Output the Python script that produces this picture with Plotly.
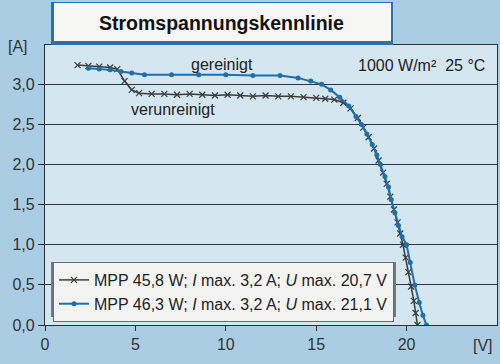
import plotly.graph_objects as go

# verunreinigt (black, x markers)
v_dirty = [1.8, 2.4, 3.0, 3.6, 4.0, 4.4, 4.8, 5.2, 5.9, 6.6, 7.3, 8.0, 8.7, 9.4, 10.1, 10.8,
           11.5, 12.2, 12.9, 13.6, 14.3, 15.0, 15.5, 16.0, 16.5, 16.9, 17.3, 17.6, 17.9, 18.2,
           18.45, 18.7, 18.9, 19.1, 19.3, 19.5, 19.65, 19.8, 19.95, 20.1, 20.25, 20.4, 20.5, 20.6]
i_dirty = [3.24, 3.23, 3.22, 3.21, 3.19, 3.04, 2.93, 2.89, 2.88, 2.88, 2.87, 2.88, 2.87, 2.86,
           2.87, 2.86, 2.85, 2.86, 2.85, 2.85, 2.84, 2.83, 2.82, 2.81, 2.77, 2.70, 2.58, 2.46,
           2.34, 2.20, 2.05, 1.90, 1.76, 1.60, 1.44, 1.28, 1.14, 1.00, 0.84, 0.66, 0.48, 0.30,
           0.15, 0.0]

# gereinigt (blue, dot markers)
v_clean = [2.4, 3.0, 3.6, 4.2, 4.8, 5.5, 7.0, 8.5, 10.0, 11.5, 13.0, 14.0, 14.7, 15.3, 15.8,
           16.3, 16.8, 17.2, 17.5, 17.8, 18.1, 18.35, 18.55, 18.8, 19.0, 19.15, 19.35, 19.55,
           19.75, 20.0, 20.2, 20.45, 20.7, 20.9, 21.1]
i_clean = [3.20, 3.19, 3.18, 3.16, 3.14, 3.12, 3.12, 3.12, 3.12, 3.11, 3.11, 3.08, 3.04, 3.00,
           2.93, 2.84, 2.73, 2.60, 2.50, 2.38, 2.25, 2.12, 2.00, 1.85, 1.72, 1.56, 1.40, 1.24,
           1.10, 1.00, 0.78, 0.50, 0.28, 0.12, 0.0]

name_dirty = "MPP 45,8 W; <i>I</i> max. 3,2 A; <i>U</i> max. 20,7 V"
name_clean = "MPP 46,3 W; <i>I</i> max. 3,2 A; <i>U</i> max. 21,1 V"

x_ticks = [0, 5, 10, 15, 20]
y_ticks = [0.0, 0.5, 1.0, 1.5, 2.0, 2.5, 3.0]

FONT = "Liberation Sans, Arial, sans-serif"

fig = go.Figure()
fig.add_trace(go.Scatter(x=v_dirty, y=i_dirty, mode="lines+markers", name=name_dirty,
                         line=dict(color="#3c3c3c", width=1.5),
                         marker=dict(symbol="x-thin", size=6, line=dict(color="#3c3c3c", width=1.2))))
fig.add_trace(go.Scatter(x=v_clean, y=i_clean, mode="lines+markers", name=name_clean,
                         line=dict(color="#1f6fad", width=2),
                         marker=dict(symbol="circle", size=5, color="#1f6fad")))

# geometry helpers (plot area: x 45..497, y 45..325 px)
L, R, T, B = 45, 497, 45, 325
def px(x):
    return (x - L) / (R - L)
def py(y):
    return (B - y) / (B - T)

shapes = [
    # legend shadow
    dict(type="rect", xref="paper", yref="paper", x0=px(51), x1=px(396), y0=py(317), y1=py(262),
         fillcolor="#6f7a80", line=dict(width=0), layer="above"),
    # title box: blue frame + white
    dict(type="rect", xref="paper", yref="paper", x0=px(51), x1=px(393), y0=py(45), y1=py(2),
         fillcolor="#2f6fb0", line=dict(width=0), layer="above"),
    dict(type="rect", xref="paper", yref="paper", x0=px(54), x1=px(391), y0=py(41), y1=py(3),
         fillcolor="#f6f7f5", line=dict(width=0), layer="above"),
]

annotations = [
    dict(text="<b>Stromspannungskennlinie</b>", xref="paper", yref="paper", x=px(221), y=py(23),
         showarrow=False, font=dict(size=19.5, color="#111", family=FONT), xanchor="center", yanchor="middle"),
    dict(text="gereinigt", x=9.8, y=3.25, showarrow=False,
         font=dict(size=16, color="#222", family=FONT), xanchor="center", yanchor="middle"),
    dict(text="verunreinigt", x=7.1, y=2.68, showarrow=False,
         font=dict(size=16, color="#222", family=FONT), xanchor="center", yanchor="middle"),
    dict(text="1000 W/m²&nbsp;&nbsp;25 °C", xref="paper", yref="paper", x=px(487), y=py(66), showarrow=False,
         font=dict(size=16, color="#222", family=FONT), xanchor="right", yanchor="middle"),
    dict(text="[A]", xref="paper", yref="paper", x=px(18), y=py(46), showarrow=False,
         font=dict(size=16, color="#333", family=FONT), xanchor="center", yanchor="middle"),
    dict(text="[V]", xref="paper", yref="paper", x=px(483), y=py(345), showarrow=False,
         font=dict(size=16, color="#333", family=FONT), xanchor="center", yanchor="middle"),
]

fig.update_layout(
    width=500, height=364,
    margin=dict(l=L, r=500 - R, t=T, b=364 - B, autoexpand=False),
    paper_bgcolor="#aacde3",
    plot_bgcolor="#d4e6ef",
    separators=", ",
    font=dict(family=FONT, size=14, color="#2a2a2a"),
    showlegend=True,
    legend=dict(x=px(53), y=py(262), xanchor="left", yanchor="top",
                bgcolor="#f3f4f2", bordercolor="#6c6c6c", borderwidth=1,
                font=dict(size=16, color="#222", family=FONT),
                tracegroupgap=0, itemwidth=30),
    shapes=shapes,
    annotations=annotations,
)
fig.update_xaxes(range=[0, 25], tickvals=x_ticks, showgrid=False, zeroline=False, automargin=False,
                 showline=True, linecolor="#2b2f33", linewidth=1.3, mirror=True,
                 ticks="outside", ticklen=5, tickcolor="#2b2f33",
                 tickfont=dict(size=16, color="#333"))
fig.update_yaxes(range=[0, 3.49], tickvals=y_ticks, tickformat=".1f", showgrid=True, automargin=False,
                 gridcolor="#2f363c", gridwidth=1.3, zeroline=False,
                 showline=True, linecolor="#2b2f33", linewidth=1.3, mirror=True,
                 ticks="outside", ticklen=6, tickcolor="#2b2f33",
                 tickfont=dict(size=16, color="#333"))

fig.write_html("out.html", config={"displayModeBar": False},
               post_script="document.body.style.margin='0';")
